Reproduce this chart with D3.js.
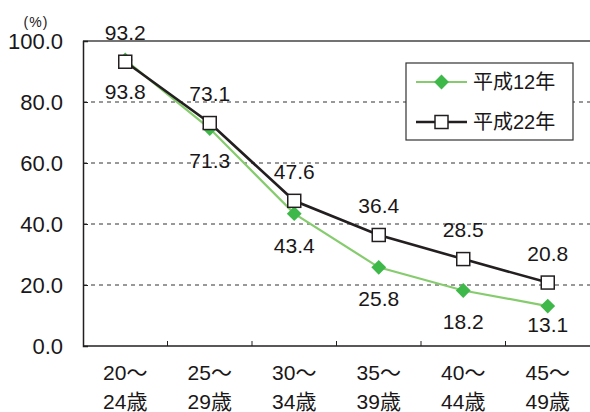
<!DOCTYPE html>
<html>
<head>
<meta charset="utf-8">
<script src="https://cdn.jsdelivr.net/npm/d3@7"></script>
<style>
  body { margin: 0; background: #fff; }
  svg text { font-family: "Liberation Sans", "Noto Sans CJK JP", sans-serif; fill: #1a1718; }
</style>
</head>
<body>
<div id="chart"></div>
<script>
// age groups (two-line labels)
const ageTop = ["20～", "25～", "30～", "35～", "40～", "45～"];
const ageBottom = ["24歳", "29歳", "34歳", "39歳", "44歳", "49歳"];
const seriesNames = ["平成12年", "平成22年"];
const h12 = [93.8, 71.3, 43.4, 25.8, 18.2, 13.1];
const h22 = [93.2, 73.1, 47.6, 36.4, 28.5, 20.8];
const yTicks = [0, 20, 40, 60, 80, 100];

const chart = {
    width: 590,
    height: 412,
    margin: { left: 83, right: 0, top: 41, bottom: 66 }
};
chart.innerWidth = chart.width - chart.margin.left - chart.margin.right;
chart.innerHeight = chart.height - chart.margin.top - chart.margin.bottom;

const svg = d3.select("#chart")
    .append("svg")
    .attr("width", chart.width)
    .attr("height", chart.height);

const g = svg.append("g")
    .attr("transform", `translate(${chart.margin.left}, ${chart.margin.top})`);

const x = d3.scaleBand()
    .domain(ageTop)
    .range([0, chart.innerWidth])
    .padding(0);
const y = d3.scaleLinear()
    .domain([0, 100])
    .range([chart.innerHeight, 0]);
const cx = i => x(ageTop[i]) + x.bandwidth() / 2;

// gridlines (dashed) and the solid top line
g.selectAll("line.grid")
    .data(yTicks.filter(t => t > 0 && t < 100))
    .enter()
    .append("line")
    .attr("x1", 0)
    .attr("x2", chart.innerWidth)
    .attr("y1", d => y(d))
    .attr("y2", d => y(d))
    .attr("stroke", "#333")
    .attr("stroke-width", 1)
    .attr("stroke-dasharray", "4,4");

g.append("line")
    .attr("x1", 0).attr("x2", chart.innerWidth)
    .attr("y1", y(100)).attr("y2", y(100))
    .attr("stroke", "#444").attr("stroke-width", 1.5);

// y axis
const yAxis = g.append("g")
    .call(d3.axisLeft(y).tickValues(yTicks).tickSize(-5).tickFormat(d3.format(".1f")));
yAxis.select(".domain").attr("stroke", "#231f20").attr("stroke-width", 1.5);
yAxis.selectAll(".tick line").attr("stroke", "#231f20");
yAxis.selectAll(".tick text")
    .attr("x", -20)
    .style("font-size", "22px")
    .style("font-family", "\"Liberation Sans\", sans-serif")
    .attr("fill", "#1a1718");

// x axis
g.append("line")
    .attr("x1", 0).attr("x2", chart.innerWidth)
    .attr("y1", chart.innerHeight).attr("y2", chart.innerHeight)
    .attr("stroke", "#231f20").attr("stroke-width", 1.5);
g.selectAll("line.xtick")
    .data(ageTop.slice(1))
    .enter()
    .append("line")
    .attr("x1", d => x(d)).attr("x2", d => x(d))
    .attr("y1", chart.innerHeight).attr("y2", chart.innerHeight - 5)
    .attr("stroke", "#231f20");

const xLabels = g.selectAll("text.xlab")
    .data(ageTop)
    .enter()
    .append("text")
    .attr("text-anchor", "middle")
    .style("font-size", "21px");
xLabels.append("tspan")
    .attr("x", (d, i) => cx(i))
    .attr("y", chart.innerHeight + 34)
    .text(d => d);
xLabels.append("tspan")
    .attr("x", (d, i) => cx(i))
    .attr("y", chart.innerHeight + 63)
    .text((d, i) => ageBottom[i]);

// "(%)"
svg.append("text")
    .attr("x", 36).attr("y", 27)
    .attr("text-anchor", "middle")
    .style("font-size", "14px")
    .style("letter-spacing", "1px")
    .text("(%)");

const line = d3.line()
    .x((d, i) => cx(i))
    .y(d => y(d));

// 平成12年 (green)
g.append("path")
    .datum(h12)
    .attr("d", line)
    .attr("fill", "none")
    .attr("stroke", "#86cc6e")
    .attr("stroke-width", 2.2);
// 平成22年 (black)
g.append("path")
    .datum(h22)
    .attr("d", line)
    .attr("fill", "none")
    .attr("stroke", "#231f20")
    .attr("stroke-width", 2.6);

const diamond = d3.symbol().type(d3.symbolSquare).size(110);
g.selectAll("path.dia")
    .data(h12)
    .enter()
    .append("path")
    .attr("d", diamond)
    .attr("transform", (d, i) => `translate(${cx(i)}, ${y(d)}) rotate(45)`)
    .attr("fill", "#3fb84a");

g.selectAll("rect.sq")
    .data(h22)
    .enter()
    .append("rect")
    .attr("x", (d, i) => cx(i) - 6.5)
    .attr("y", d => y(d) - 6.5)
    .attr("width", 13)
    .attr("height", 13)
    .attr("fill", "#fff")
    .attr("stroke", "#231f20")
    .attr("stroke-width", 1.5);

// value labels
g.selectAll("text.v22")
    .data(h22)
    .enter()
    .append("text")
    .attr("x", (d, i) => cx(i))
    .attr("y", d => y(d) - 22)
    .attr("text-anchor", "middle")
    .style("font-size", "21px")
    .text(d => d.toFixed(1));

g.selectAll("text.v12")
    .data(h12)
    .enter()
    .append("text")
    .attr("x", (d, i) => cx(i))
    .attr("y", d => Math.min(y(d) + 39, chart.innerHeight - 14))
    .attr("text-anchor", "middle")
    .style("font-size", "21px")
    .text(d => d.toFixed(1));

// legend
const legend = svg.append("g").attr("transform", "translate(406, 63)");
legend.append("rect")
    .attr("width", 167).attr("height", 77)
    .attr("fill", "#fff")
    .attr("stroke", "#333").attr("stroke-width", 1.2);

const rows = legend.selectAll("g.row")
    .data(seriesNames)
    .enter()
    .append("g")
    .attr("transform", (d, i) => `translate(0, ${19 + i * 40})`);
rows.append("line")
    .attr("x1", 10).attr("x2", 61)
    .attr("stroke", (d, i) => i === 0 ? "#86cc6e" : "#231f20")
    .attr("stroke-width", (d, i) => i === 0 ? 2.2 : 2.6);
rows.filter((d, i) => i === 0)
    .append("path")
    .attr("d", diamond)
    .attr("transform", "translate(35.5, 0) rotate(45)")
    .attr("fill", "#3fb84a");
rows.filter((d, i) => i === 1)
    .append("rect")
    .attr("x", 29).attr("y", -6.5)
    .attr("width", 13).attr("height", 13)
    .attr("fill", "#fff")
    .attr("stroke", "#231f20").attr("stroke-width", 1.5);
rows.append("text")
    .attr("x", 67)
    .attr("dy", "0.36em")
    .style("font-size", "20px")
    .text(d => d);
</script>
</body>
</html>
